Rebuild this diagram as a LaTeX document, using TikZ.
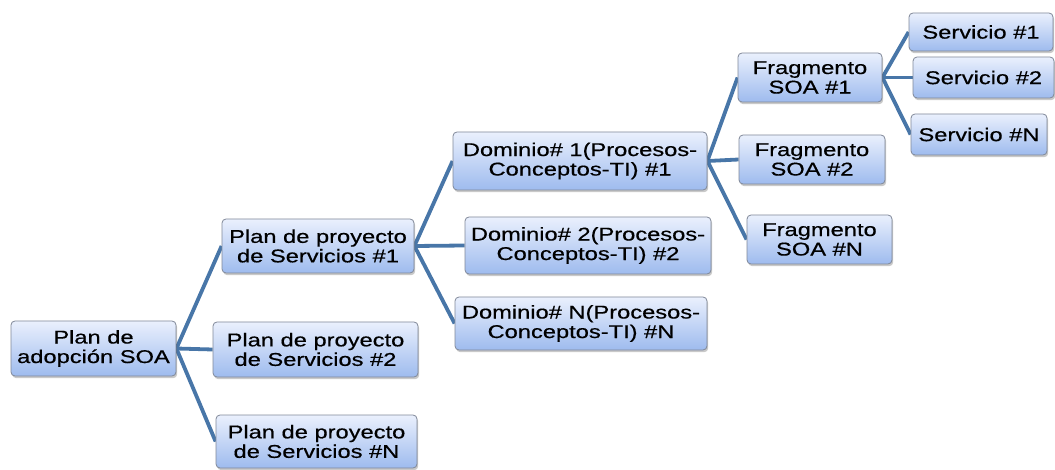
\documentclass[tikz,border=0pt]{standalone}
\usepackage{fontspec}
\setmainfont{Liberation Sans}[FakeStretch=1.28,FakeBold=0.5]
\usetikzlibrary{shadows,backgrounds}
\definecolor{boxtop}{RGB}{234,240,253}
\definecolor{boxbottom}{RGB}{158,187,238}
\definecolor{boxedge}{RGB}{128,136,152}
\definecolor{branch}{RGB}{72,118,168}
\tikzset{
  topic/.style={draw=boxedge, line width=0.8pt, rounded corners=4pt,
    top color=boxtop, bottom color=boxbottom, align=center,
    inner sep=0pt, text=black,
    font=\fontsize{18.5}{19.5}\selectfont,
    drop shadow={shadow xshift=1.2pt, shadow yshift=-2.2pt, opacity=0.3, fill=black!70}},
  branchline/.style={draw=branch, line width=3.8pt}
}
\begin{document}
\begin{tikzpicture}[x=1pt,y=-1pt]
\useasboundingbox (0,0) rectangle (1055,470);
% root
\node[topic, minimum width=165pt, minimum height=55pt] (root) at (93.5,348.5) {Plan de\\adopción SOA};
% project plans
\node[topic, minimum width=192pt, minimum height=54pt] (p1) at (318,246) {Plan de proyecto\\de Servicios \#1};
\node[topic, minimum width=205pt, minimum height=55pt] (p2) at (315.5,349.5) {Plan de proyecto\\de Servicios \#2};
\node[topic, minimum width=201pt, minimum height=53pt] (pN) at (316.5,441.5) {Plan de proyecto\\de Servicios \#N};
% domains
\node[topic, minimum width=254pt, minimum height=58pt] (d1) at (580,161) {Dominio\# 1(Procesos-\\Conceptos-TI) \#1};
\node[topic, minimum width=246pt, minimum height=57pt] (d2) at (588,245.5) {Dominio\# 2(Procesos-\\Conceptos-TI) \#2};
\node[topic, minimum width=252pt, minimum height=53pt] (dN) at (581,323.5) {Dominio\# N(Procesos-\\Conceptos-TI) \#N};
% SOA fragments
\node[topic, minimum width=144pt, minimum height=49pt] (f1) at (810,77.5) {Fragmento\\SOA \#1};
\node[topic, minimum width=146pt, minimum height=49pt] (f2) at (812,159.5) {Fragmento\\SOA \#2};
\node[topic, minimum width=145pt, minimum height=49pt] (fN) at (819.5,239.5) {Fragmento\\SOA \#N};
% services
\node[topic, minimum width=144pt, minimum height=38pt] (s1) at (981,32) {Servicio \#1};
\node[topic, minimum width=141pt, minimum height=41pt] (s2) at (983.5,77.5) {Servicio \#2};
\node[topic, minimum width=136pt, minimum height=41pt] (sN) at (979,134.5) {Servicio \#N};
% branches
\begin{scope}[on background layer]
  \foreach \a/\b in {root/p1,root/p2,root/pN,p1/d1,p1/d2,p1/dN,d1/f1,d1/f2,d1/fN,f1/s1,f1/s2,f1/sN}
    \draw[branchline] (\a.east) -- (\b.west);
\end{scope}
\end{tikzpicture}
\end{document}
